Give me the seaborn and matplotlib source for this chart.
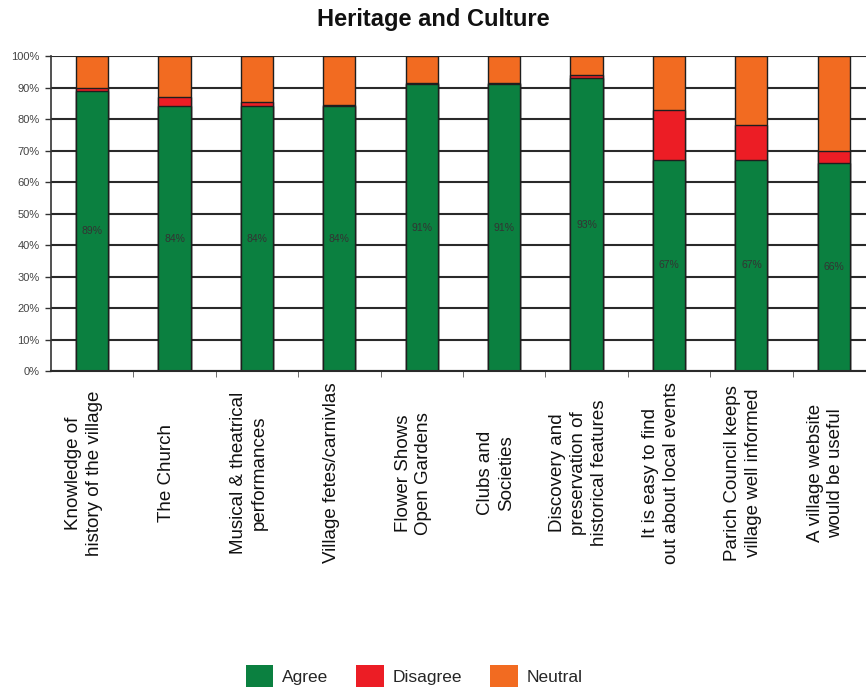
import numpy as np
import pandas as pd
import matplotlib
matplotlib.use("Agg")
import matplotlib.pyplot as plt
import seaborn as sns
from matplotlib.patches import Patch

categories = ["Knowledge of\nhistory of the village", "The Church",
              "Musical & theatrical\nperformances", "Village fetes/carnivlas",
              "Flower Shows\nOpen Gardens", "Clubs and\nSocieties",
              "Discovery and\npreservation of\nhistorical features",
              "It is easy to find\nout about local events",
              "Parich Council keeps\nvillage well informed",
              "A village website\nwould be useful"]
agree = [89, 84, 84, 84, 91, 91, 93, 67, 67, 66]
disagree = [1, 3, 1.5, 0.5, 0.5, 0.5, 1, 16, 11, 4]
neutral = [10, 13, 14.5, 15.5, 8.5, 8.5, 6, 17, 22, 30]

colors = {"Agree": "#0b8040", "Disagree": "#ec1d25", "Neutral": "#f26b21"}

sns.set_style("white")
plt.rcParams['font.family'] = ['Liberation Sans', 'DejaVu Sans']

df = pd.DataFrame({"cat": categories, "agree": agree,
                   "disagree": disagree, "neutral": neutral})
df["ad"] = df["agree"] + df["disagree"]
df["total"] = df["ad"] + df["neutral"]

fig = plt.figure(figsize=(8.66, 6.89), dpi=100)
ax = fig.add_axes([0.0587, 0.4615, 0.9517, 0.4572])
ax.set_axisbelow(True)
ax.yaxis.grid(True, color="#2a2a2a", lw=1.5)

# overlay trick for stacked bars: total, then agree+disagree, then agree
for col, c in [("total", colors["Neutral"]), ("ad", colors["Disagree"]),
               ("agree", colors["Agree"])]:
    sns.barplot(data=df, x="cat", y=col, color=c, width=0.39, ax=ax,
                saturation=1, edgecolor="#1e1e1e", linewidth=1.0)

for i, v in enumerate(agree):
    ax.text(i, v / 2, f"{v}%", ha="center", va="center", fontsize=7.5,
            color="#333333")

ax.set_xlim(-0.5, 9.5)
ax.set_ylim(0, 100)
ax.set_yticks(np.arange(0, 101, 10))
ax.set_yticklabels([f"{t}%" for t in range(0, 101, 10)], fontsize=8,
                   color="#444444")
ax.tick_params(axis="y", length=4, width=1, color="#333333", pad=4, left=True)
ax.set_xticks([])
ax.set_xticks(np.arange(0.5, 9, 1), minor=True)
ax.tick_params(axis="x", which="minor", length=4, color="#555555", bottom=True)
ax.set_xlabel("")
ax.set_ylabel("")
for s in ["top", "right"]:
    ax.spines[s].set_visible(False)
ax.spines["left"].set_color("#333333")
ax.spines["left"].set_linewidth(1.2)
ax.spines["bottom"].set_color("#2a2a2a")
ax.spines["bottom"].set_linewidth(1.5)

xt = ax.get_xaxis_transform()
for i, lab in enumerate(categories):
    ax.text(i - 0.1, -0.324, lab, transform=xt, rotation=90, ha="center",
            va="center", multialignment="center", fontsize=13.5,
            color="#111111", linespacing=1.3)

fig.text(0.5, 0.971, "Heritage and Culture", ha="center", va="center",
         fontsize=17, fontweight="bold", color="#111111")

handles = [Patch(facecolor=c, edgecolor="none", label=k)
           for k, c in colors.items()]
fig.legend(handles=handles, loc="center", bbox_to_anchor=(0.478, 0.019),
           ncol=3, frameon=False, fontsize=12.5, handlelength=1.6,
           handleheight=1.6, handletextpad=0.5, columnspacing=1.6)

fig.savefig("out.png", dpi=100)
